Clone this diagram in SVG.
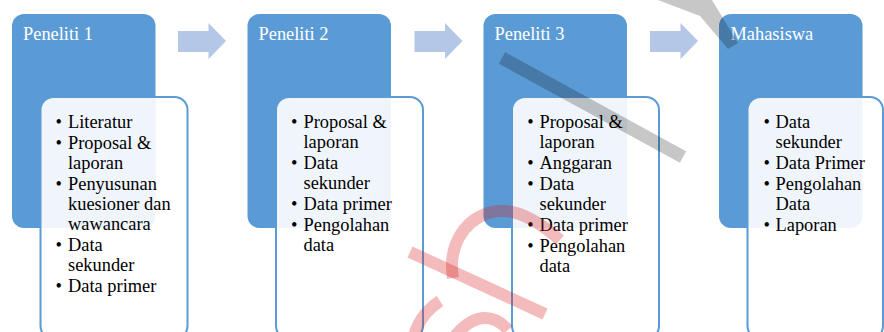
<svg xmlns="http://www.w3.org/2000/svg" xmlns:xlink="http://www.w3.org/1999/xlink" width="884" height="332" viewBox="0 0 884 332">
  <defs>
    <style>
      .head { fill: #5B9BD5; }
      .body { fill: #FFFFFF; fill-opacity: 0.9; stroke: #5B9BD5; stroke-width: 2; }
      .title { font-family: "Liberation Serif", "Times New Roman", serif; font-size: 18.4px; fill: #FFFFFF; }
      .item { font-family: "Liberation Serif", "Times New Roman", serif; font-size: 18.4px; fill: #000000; }
      .flow { fill: #B4C7E7; }
      .mark-red { fill: none; stroke: #D81E1E; stroke-opacity: 0.3; stroke-width: 12; }
      .mark-grey { fill: none; stroke: #000000; stroke-opacity: 0.22; stroke-width: 13; }
    </style>
    <path id="flow-arrow" d="M0,8 H30.5 V0 L48,18 L30.5,36 V29 H0 Z"/>
  </defs>

  <rect width="884" height="332" fill="#FFFFFF"/>

  <!-- Peneliti 1 -->
  <g id="peneliti-1">
    <rect class="head" x="12" y="14" width="143.5" height="214" rx="12"/>
    <text class="title" x="23" y="40">Peneliti 1</text>
    <rect class="body" x="40.5" y="97" width="147" height="242" rx="13"/>
    <text class="item" x="55.5" y="127.5">•</text><text class="item" x="68" y="127.5">Literatur</text>
    <text class="item" x="55.5" y="148.7">•</text><text class="item" x="68" y="148.7">Proposal &amp;</text>
    <text class="item" x="68" y="168.7">laporan</text>
    <text class="item" x="55.5" y="189.9">•</text><text class="item" x="68" y="189.9">Penyusunan</text>
    <text class="item" x="68" y="209.9">kuesioner dan</text>
    <text class="item" x="68" y="229.9">wawancara</text>
    <text class="item" x="55.5" y="251.1">•</text><text class="item" x="68" y="251.1">Data</text>
    <text class="item" x="68" y="271.1">sekunder</text>
    <text class="item" x="55.5" y="292.3">•</text><text class="item" x="68" y="292.3">Data primer</text>
  </g>

  <!-- Peneliti 2 -->
  <g id="peneliti-2">
    <rect class="head" x="247.5" y="14" width="143.5" height="214" rx="12"/>
    <text class="title" x="258.5" y="40">Peneliti 2</text>
    <rect class="body" x="276" y="97" width="147" height="242" rx="13"/>
    <text class="item" x="291" y="127.5">•</text><text class="item" x="303.5" y="127.5">Proposal &amp;</text>
    <text class="item" x="303.5" y="147.5">laporan</text>
    <text class="item" x="291" y="168.7">•</text><text class="item" x="303.5" y="168.7">Data</text>
    <text class="item" x="303.5" y="188.7">sekunder</text>
    <text class="item" x="291" y="209.9">•</text><text class="item" x="303.5" y="209.9">Data primer</text>
    <text class="item" x="291" y="231.1">•</text><text class="item" x="303.5" y="231.1">Pengolahan</text>
    <text class="item" x="303.5" y="251.1">data</text>
  </g>

  <!-- Peneliti 3 -->
  <g id="peneliti-3">
    <rect class="head" x="483.5" y="14" width="143.5" height="214" rx="12"/>
    <text class="title" x="494.5" y="40">Peneliti 3</text>
    <rect class="body" x="512" y="97" width="147" height="242" rx="13"/>
    <text class="item" x="527.3" y="127.5">•</text><text class="item" x="539.5" y="127.5">Proposal &amp;</text>
    <text class="item" x="539.5" y="147.5">laporan</text>
    <text class="item" x="527.3" y="168.7">•</text><text class="item" x="539.5" y="168.7">Anggaran</text>
    <text class="item" x="527.3" y="189.9">•</text><text class="item" x="539.5" y="189.9">Data</text>
    <text class="item" x="539.5" y="209.9">sekunder</text>
    <text class="item" x="527.3" y="231.1">•</text><text class="item" x="539.5" y="231.1">Data primer</text>
    <text class="item" x="527.3" y="252.3">•</text><text class="item" x="539.5" y="252.3">Pengolahan</text>
    <text class="item" x="539.5" y="272.3">data</text>
  </g>

  <!-- Mahasiswa -->
  <g id="mahasiswa">
    <rect class="head" x="719" y="14" width="143.5" height="214" rx="12"/>
    <text class="title" x="730.5" y="40">Mahasiswa</text>
    <rect class="body" x="747.5" y="97" width="135.5" height="242" rx="13"/>
    <text class="item" x="763.5" y="127.5">•</text><text class="item" x="775.5" y="127.5">Data</text>
    <text class="item" x="775.5" y="147.5">sekunder</text>
    <text class="item" x="763.5" y="168.7">•</text><text class="item" x="775.5" y="168.7">Data Primer</text>
    <text class="item" x="763.5" y="189.9">•</text><text class="item" x="775.5" y="189.9">Pengolahan</text>
    <text class="item" x="775.5" y="209.9">Data</text>
    <text class="item" x="763.5" y="231.1">•</text><text class="item" x="775.5" y="231.1">Laporan</text>
  </g>

  <!-- flow arrows between stages -->
  <g id="connectors">
    <use xlink:href="#flow-arrow" class="flow" x="178" y="23"/>
    <use xlink:href="#flow-arrow" class="flow" x="414.5" y="23"/>
    <use xlink:href="#flow-arrow" class="flow" x="650" y="23"/>
  </g>

  <!-- translucent overprint strokes -->
  <g id="overprint">
    <path class="mark-grey" d="M502,58 L683,157"/>
    <polygon points="658,0 712,0 738,43 728,49 700,16" fill="#000000" fill-opacity="0.22"/>
    <path class="mark-red" d="M410,252 L545,314"/>
    <path class="mark-red" d="M453,278 C448,248 462,222 488,213 C510,205 535,218 560,240"/>
    <path class="mark-red" stroke-width="9" d="M414,336 Q420,314 440,301"/>
    <path class="mark-red" stroke-width="10" d="M455,336 Q470,318 485,318 Q498,318 508,330"/>
  </g>
</svg>
